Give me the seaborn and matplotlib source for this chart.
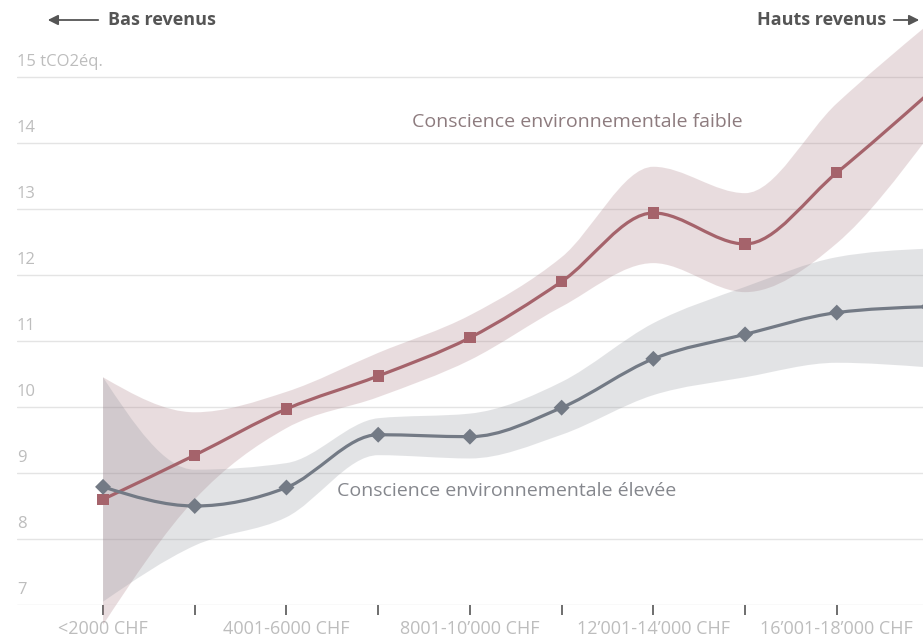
import numpy as np
import pandas as pd
import matplotlib.pyplot as plt
import seaborn as sns
from matplotlib.path import Path
from matplotlib.patches import PathPatch

# income brackets (x axis)
categories = ["<2000 CHF", "2001-4000 CHF", "4001-6000 CHF", "6001-8000 CHF",
              "8001-10’000 CHF", "10’001-12’000 CHF", "12’001-14’000 CHF",
              "14’001-16’000 CHF", "16’001-18’000 CHF", ">18’000 CHF"]

# tCO2eq per person, low environmental awareness
faible = [8.60, 9.27, 9.97, 10.47, 11.05, 11.90, 12.94, 12.47, 13.55, 14.75]
faible_low = [6.70, 8.60, 9.68, 10.15, 10.71, 11.52, 12.18, 11.74, 12.48, 14.10]
faible_high = [10.45, 9.92, 10.23, 10.82, 11.39, 12.27, 13.64, 13.24, 14.60, 15.80]

# tCO2eq per person, high environmental awareness
elevee = [8.79, 8.50, 8.78, 9.58, 9.55, 9.99, 10.73, 11.10, 11.43, 11.52]
elevee_low = [7.05, 7.90, 8.33, 9.27, 9.22, 9.58, 10.18, 10.45, 10.67, 10.60]
elevee_high = [10.45, 9.05, 9.15, 9.83, 9.90, 10.38, 11.27, 11.82, 12.27, 12.40]

y_ticks = [7, 8, 9, 10, 11, 12, 13, 14, 15]

red = "#a5636b"
red_fill = "#a7777f"
grey = "#737a85"
grey_fill = "#8f939b"
label_col = "#bdbdbd"


def monotone_path(xs, ys):
    # monotone cubic curve through the points, as bezier segments
    xs = np.asarray(xs, float)
    ys = np.asarray(ys, float)
    n = len(xs)
    h = np.diff(xs)
    s = np.diff(ys) / h
    t = np.zeros(n)
    for i in range(1, n - 1):
        p = (s[i - 1] * h[i] + s[i] * h[i - 1]) / (h[i - 1] + h[i])
        t[i] = (np.sign(s[i - 1]) + np.sign(s[i])) * min(abs(s[i - 1]), abs(s[i]), 0.5 * abs(p))
    t[0] = (3 * s[0] - t[1]) / 2
    t[-1] = (3 * s[-1] - t[-2]) / 2
    verts = [(xs[0], ys[0])]
    for i in range(n - 1):
        dx = h[i] / 3
        verts += [(xs[i] + dx, ys[i] + dx * t[i]),
                  (xs[i + 1] - dx, ys[i + 1] - dx * t[i + 1]),
                  (xs[i + 1], ys[i + 1])]
    return verts


def band_patch(xs, low, high, color):
    up = monotone_path(xs, high)
    lo = monotone_path(xs, low)[::-1]
    verts = up + lo + [up[0]]
    codes = ([Path.MOVETO] + [Path.CURVE4] * (len(up) - 1) + [Path.LINETO]
             + [Path.CURVE4] * (len(lo) - 1) + [Path.CLOSEPOLY])
    return PathPatch(Path(verts, codes), facecolor=color, edgecolor="none",
                     alpha=0.25, clip_on=False, zorder=2)


def line_patch(xs, ys, color):
    v = monotone_path(xs, ys)
    codes = [Path.MOVETO] + [Path.CURVE4] * (len(v) - 1)
    return PathPatch(Path(v, codes), facecolor="none", edgecolor=color,
                     lw=2.3, capstyle="round", zorder=3)


sns.set_theme(style="white")
plt.rcParams["font.family"] = ["Open Sans", "DejaVu Sans"]

pos = np.arange(len(categories))
df = pd.DataFrame({"pos": np.concatenate([pos, pos]),
                   "val": faible + elevee,
                   "groupe": ["faible"] * len(pos) + ["elevee"] * len(pos)})

fig = plt.figure(figsize=(9.23, 6.43), dpi=100)
ax = fig.add_axes([17 / 923, 38 / 643, 906 / 923, 605 / 643])

for yt in y_ticks:
    ax.axhline(yt, color="#e4e4e4", lw=1, zorder=1)

ax.add_patch(band_patch(pos, faible_low, faible_high, red_fill))
ax.add_patch(band_patch(pos, elevee_low, elevee_high, grey_fill))
ax.add_patch(line_patch(pos, faible, red))
ax.add_patch(line_patch(pos, elevee, grey))

sns.scatterplot(data=df, x="pos", y="val", hue="groupe", style="groupe",
                palette={"faible": red, "elevee": grey},
                markers={"faible": "s", "elevee": "D"},
                s=66, edgecolor="none", legend=False, zorder=4, ax=ax)

ax.set_xticks(pos)
ax.set_xticklabels([c if i % 2 == 0 else "" for i, c in enumerate(categories)],
                   color=label_col, fontsize=13)
ax.tick_params(axis="x", direction="out", length=7, width=1.2, color="#555555",
               pad=4, bottom=True)
# limits after the ticks, otherwise set_xticks widens them
ax.set_xlim(-0.938, 8.94)
ax.set_ylim(7, 7 + 605 / 66)
ax.set_yticks([])
ax.set_xlabel("")
ax.set_ylabel("")
for sp in ax.spines.values():
    sp.set_visible(False)

# y labels sit above their grid lines
for yt in y_ticks:
    txt = f"{yt} tCO2éq." if yt == y_ticks[-1] else str(yt)
    ax.annotate(txt, xy=(0, yt), xycoords=("axes fraction", "data"),
                xytext=(0, 5), textcoords="offset points",
                ha="left", va="bottom", color=label_col, fontsize=12)

ax.text(3.37, 14.32, "Conscience environnementale faible", color="#8d7b7e",
        fontsize=14, va="center", ha="left")
ax.text(2.55, 8.73, "Conscience environnementale élevée", color="#85878d",
        fontsize=14, va="center", ha="left")

# income direction arrows
fig.text(108 / 923, 1 - 20 / 643, "Bas revenus", color="#555555", fontsize=13,
         fontweight="bold", ha="left", va="center")
ax.annotate("", xy=(45, 623), xycoords="figure pixels", xytext=(101, 623),
            textcoords="figure pixels",
            arrowprops=dict(arrowstyle="-|>", color="#555555", lw=1.3,
                            mutation_scale=15), annotation_clip=False)
fig.text(886 / 923, 1 - 20 / 643, "Hauts revenus", color="#555555", fontsize=13,
         fontweight="bold", ha="right", va="center")
ax.annotate("", xy=(922, 623), xycoords="figure pixels", xytext=(891, 623),
            textcoords="figure pixels",
            arrowprops=dict(arrowstyle="-|>", color="#555555", lw=1.3,
                            mutation_scale=15), annotation_clip=False)

fig.savefig("out.png", dpi=100, facecolor="white")
